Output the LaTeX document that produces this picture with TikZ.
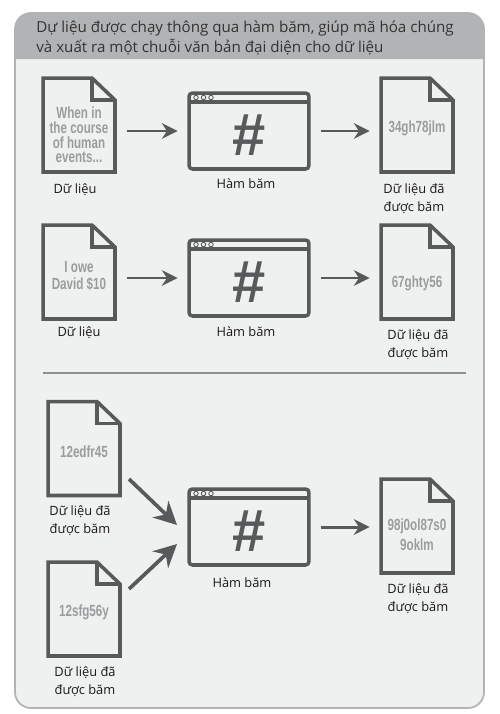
\documentclass[tikz,border=0pt]{standalone}
\usepackage{fontspec}
\setmainfont{Open Sans}
\newfontfamily\docfont[FakeStretch=0.72]{Liberation Sans}
\newfontfamily\hashfont{Liberation Sans}
\usetikzlibrary{arrows.meta, calc}
\definecolor{iconcol}{HTML}{58595B}
\definecolor{panelcol}{HTML}{EFF0F0}
\definecolor{headcol}{HTML}{B1B3B5}
\definecolor{doctext}{HTML}{9A9C9E}
\tikzset{
  docbox/.style={minimum width=1.44cm, minimum height=1.88cm, inner sep=0pt, outer sep=0pt},
  winbox/.style={minimum width=2.4cm, minimum height=1.52cm, inner sep=0pt, outer sep=0pt},
  iconline/.style={iconcol, line width=2pt, line join=miter},
  flow/.style={iconcol, line width=1.7pt, shorten <=6.8pt, shorten >=6.5pt, -{Stealth[length=9pt, width=9pt]}},
  bigflow/.style={iconcol, line width=2.1pt, -{Stealth[length=13pt, width=13pt]}},
  doclabel/.style={font=\docfont\bfseries\fontsize{9.2}{8.3}\selectfont, text=doctext, align=center, inner sep=0pt},
  caption/.style={font=\fontsize{7.3}{10.2}\selectfont, text=black!90, align=center, inner sep=0pt},
}
% page icon: name, x, y
\newcommand{\docicon}[3]{
  \node[docbox] (#1) at (#2,#3) {};
  \draw[iconline] (#1.south west) -- (#1.north west) -- ($(#1.north east)+(-23,0)$)
      -- ($(#1.north east)+(0,22)$) -- (#1.south east) -- cycle;
  \draw[iconline] ($(#1.north east)+(-23,0)$) -- ($(#1.north east)+(-23,22)$) -- ($(#1.north east)+(0,22)$);
}
% hash window icon: name, x, y
\newcommand{\winicon}[3]{
  \node[winbox] (#1) at (#2,#3) {};
  \draw[iconline, rounded corners=2pt] (#1.south west) rectangle (#1.north east);
  \draw[iconline] ($(#1.north west)+(0,9)$) -- ($(#1.north east)+(0,9)$);
  \foreach \dotx in {7,14.5,22}
    \draw[iconcol, line width=0.5pt] ($(#1.north west)+(\dotx,4.5)$) circle (0.045cm);
  \node[iconcol, font=\hashfont\bfseries\fontsize{34}{34}\selectfont, inner sep=0pt] at ($(#1)+(0,4)$) {\#};
}
\begin{document}
\begin{tikzpicture}[x=0.02cm, y=-0.02cm]
  \useasboundingbox (0,0) rectangle (500,714);
  % panel and its header
  \fill[white] (0,0) rectangle (500,714);
  \draw[headcol, fill=panelcol, line width=1pt, rounded corners=0.32cm] (15,13) rectangle (484,708);
  \fill[headcol] (15,59) [rounded corners=0.32cm] -- (15,13) -- (484,13) [sharp corners] -- (484,59) -- cycle;
  \node[anchor=west, font=\fontsize{8.62}{11.6}\selectfont, text=black!80, align=left, inner sep=0pt] (heading) at (36,38)
      {Dự liệu được chạy thông qua hàm băm, giúp mã hóa chúng\\và xuất ra một chuỗi văn bản đại diện cho dữ liệu};

  % first row
  \docicon{srcA}{79}{125}
  \winicon{hashA}{249}{131}
  \docicon{outA}{417}{125}
  \node[doclabel] (textA) at (79,135) {When in\\the course\\of human\\events...};
  \node[doclabel] (digestA) at (417,128) {34gh78jlm};
  \node[caption] (capA) at (75,190) {Dữ liệu};
  \node[caption] (capB) at (246,184) {Hàm băm};
  \node[caption] (capC) at (414,199) {Dữ liệu đã\\được băm};
  \draw[flow] (srcA.east |- hashA) -- (hashA.west);
  \draw[flow] (hashA.east) -- (outA.west |- hashA);

  % second row
  \docicon{srcB}{79}{272}
  \winicon{hashB}{249}{278}
  \docicon{outB}{417}{272}
  \node[doclabel] (textB) at (79,276) {I owe\\[1pt]David \$10};
  \node[doclabel] (digestB) at (417,283) {67ghty56};
  \node[caption] (capD) at (79,333) {Dữ liệu};
  \node[caption] (capE) at (246,332) {Hàm băm};
  \node[caption] (capF) at (418,345) {Dữ liệu đã\\được băm};
  \draw[flow] (srcB.east |- hashB) -- (hashB.west);
  \draw[flow] (hashB.east) -- (outB.west |- hashB);

  \draw[headcol!80!black, line width=0.6pt] (43,373) coordinate (ruleL) -- (466,373) coordinate (ruleR);

  % third row
  \docicon{srcC}{84}{448.5}
  \docicon{srcD}{84}{609}
  \winicon{hashC}{249}{527}
  \docicon{outC}{417}{526}
  \node[doclabel] (textC) at (84,452) {12edfr45};
  \node[doclabel] (textD) at (84,612) {12sfg56y};
  \node[doclabel] (digestC) at (417,535) {98j0ol87s0\\[2pt]9oklm};
  \node[caption] (capG) at (80,520.5) {Dữ liệu đã\\được băm};
  \node[caption] (capH) at (85,682) {Dữ liệu đã\\được băm};
  \node[caption] (capI) at (242,583) {Hàm băm};
  \node[caption] (capJ) at (418,599) {Dữ liệu đã\\được băm};
  \coordinate (entryC) at (177,525);
  \coordinate (entryD) at (177,544);
  \draw[bigflow] ($(srcC.east)+(9,30.5)$) -- (entryC);
  \draw[bigflow] ($(srcD.east)+(9,-20)$) -- (entryD);
  \draw[flow] (hashC.east) -- (outC.west |- hashC);
\end{tikzpicture}
\end{document}
